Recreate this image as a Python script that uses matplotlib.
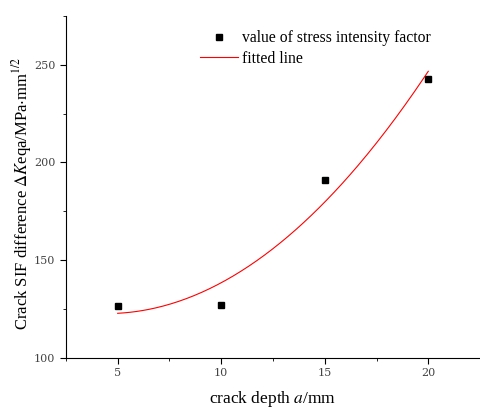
import numpy as np
import matplotlib
matplotlib.use('Agg')
import matplotlib.pyplot as plt
from matplotlib.ticker import MultipleLocator

plt.rcParams['font.family'] = 'Liberation Serif'
plt.rcParams['mathtext.fontset'] = 'stix'

depth = np.array([5, 10, 15, 20])
sif = np.array([126.6, 127.1, 191.1, 242.9])

# quadratic fit through the points
coef = np.polyfit(depth, sif, 2)
xf = np.linspace(5, 20, 200)
yf = np.polyval(coef, xf)

fig = plt.figure(figsize=(4.81, 4.09), dpi=100)
ax = fig.add_axes([0.137, 0.125, 0.861, 0.836])

ax.plot(depth, sif, 's', color='black', markersize=5, label='value of stress intensity factor')
ax.plot(xf, yf, '-', color='red', linewidth=0.8, label='fitted line')

ax.set_xlim(2.5, 22.5)
ax.set_ylim(100, 275)
ax.xaxis.set_major_locator(MultipleLocator(5))
ax.xaxis.set_minor_locator(MultipleLocator(2.5))
ax.yaxis.set_major_locator(MultipleLocator(50))
ax.yaxis.set_minor_locator(MultipleLocator(25))
ax.tick_params(which='both', direction='out', labelsize=8, labelcolor='#444444')
ax.tick_params(which='major', length=4)
ax.tick_params(which='minor', length=2.5)
for lab in ax.get_xticklabels() + ax.get_yticklabels():
    lab.set_family('DejaVu Serif')
ax.spines['top'].set_visible(False)
ax.spines['right'].set_visible(False)

ax.set_xlabel('crack depth $a$/mm', fontsize=12.5, labelpad=8)
ax.set_ylabel(r'Crack SIF difference $\Delta K$eqa/MPa$\cdot$mm$^{1/2}$', fontsize=12)
ax.yaxis.set_label_coords(-0.078, 0.48)

ax.legend(loc='upper left', bbox_to_anchor=(0.29, 1.0), frameon=False, fontsize=11.3,
          handlelength=2.4, handletextpad=0.3, labelspacing=0.3)

fig.savefig('out.png', dpi=100)
